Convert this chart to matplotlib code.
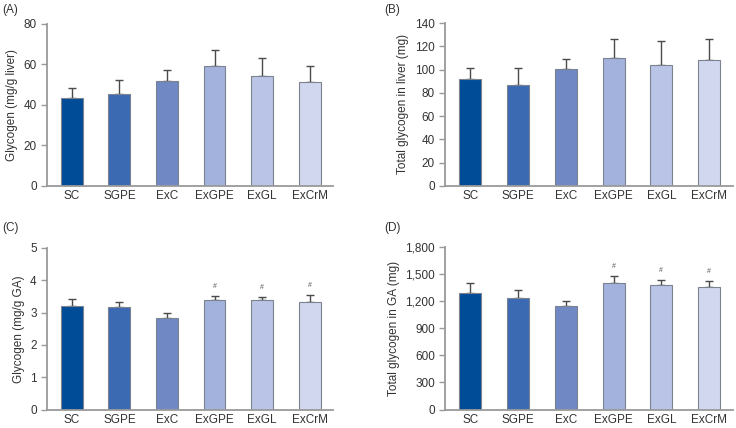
import numpy as np
import matplotlib.pyplot as plt

plt.rcParams['font.family'] = ['Liberation Sans', 'DejaVu Sans']

groups = ["SC", "SGPE", "ExC", "ExGPE", "ExGL", "ExCrM"]
colors = ["#004c97", "#3b6ab3", "#7089c5", "#a3b2dc", "#bac4e6", "#d1d7ee"]

# (A) glycogen in liver (mg/g liver)
liver_conc = [43.5, 45.5, 51.9, 59.4, 54.5, 51.1]
liver_conc_sd = [4.6, 7.0, 5.1, 7.8, 8.9, 7.9]
# (B) total glycogen in liver (mg)
liver_total = [91.8, 86.3, 100.4, 109.9, 103.8, 108.4]
liver_total_sd = [9.5, 15.0, 8.6, 16.6, 20.7, 18.1]
# (C) glycogen in GA (mg/g GA)
ga_conc = [3.21, 3.16, 2.84, 3.39, 3.39, 3.32]
ga_conc_sd = [0.20, 0.16, 0.13, 0.12, 0.09, 0.23]
# (D) total glycogen in GA (mg)
ga_total = [1286, 1238, 1143, 1403, 1381, 1352]
ga_total_sd = [110, 81, 62, 81, 55, 70]
sig_mark = ["", "", "", "#", "#", "#"]

panels = [
    ("(A)", liver_conc, liver_conc_sd, "Glycogen (mg/g liver)", [0, 20, 40, 60, 80], None,
     [0.064, 0.566, 0.389, 0.378], (2, 10)),
    ("(B)", liver_total, liver_total_sd, "Total glycogen in liver (mg)", list(range(0, 141, 20)), None,
     [0.605, 0.566, 0.391, 0.380], (384, 10)),
    ("(C)", ga_conc, ga_conc_sd, "Glycogen (mg/g GA)", [0, 1, 2, 3, 4, 5], sig_mark,
     [0.064, 0.043, 0.389, 0.378], (2, 228)),
    ("(D)", ga_total, ga_total_sd, "Total glycogen in GA (mg)", list(range(0, 1801, 300)), sig_mark,
     [0.605, 0.043, 0.391, 0.380], (384, 228)),
]

fig = plt.figure(figsize=(7.36, 4.28), dpi=100)
x = np.arange(len(groups))
grey = "#9a9a9a"

for tag, vals, sds, ylabel, yticks, marks, rect, lab in panels:
    ax = fig.add_axes(rect)
    ax.bar(x, vals, width=0.46, color=colors, edgecolor="#7d8291", linewidth=0.8, zorder=2)
    ax.errorbar(x, vals, yerr=[np.zeros(len(sds)), sds], fmt="none", ecolor="#4a4a4a",
                elinewidth=1.0, capsize=3, capthick=1.0, zorder=1)
    if marks:
        top = yticks[-1]
        for xi, v, s, m in zip(x, vals, sds, marks):
            if m:
                ax.text(xi, v + s + top * 0.035, m, ha="center", va="bottom", fontsize=5, color="#555555")
    ax.set_ylim(0, yticks[-1])
    ax.set_xlim(-0.52, 5.5)
    ax.set_yticks(yticks)
    if yticks[-1] >= 1000:
        ax.set_yticklabels([f"{t:,}" for t in yticks])
    ax.set_xticks(x)
    ax.set_xticklabels(groups)
    ax.set_ylabel(ylabel, fontsize=8.5, color="#333333")
    for sp in ["top", "right"]:
        ax.spines[sp].set_visible(False)
    for sp in ["left", "bottom"]:
        ax.spines[sp].set_color(grey)
        ax.spines[sp].set_linewidth(1.3)
    ax.tick_params(axis="y", colors=grey, labelcolor="#333333", labelsize=8.5, length=4, width=1)
    ax.tick_params(axis="x", length=0, labelcolor="#333333", labelsize=8.5, pad=3)
    fig.text(lab[0] / 736, 1 - lab[1] / 428, tag, fontsize=8.5, color="#333333", va="center", ha="left")

fig.savefig("out.png", dpi=100)
